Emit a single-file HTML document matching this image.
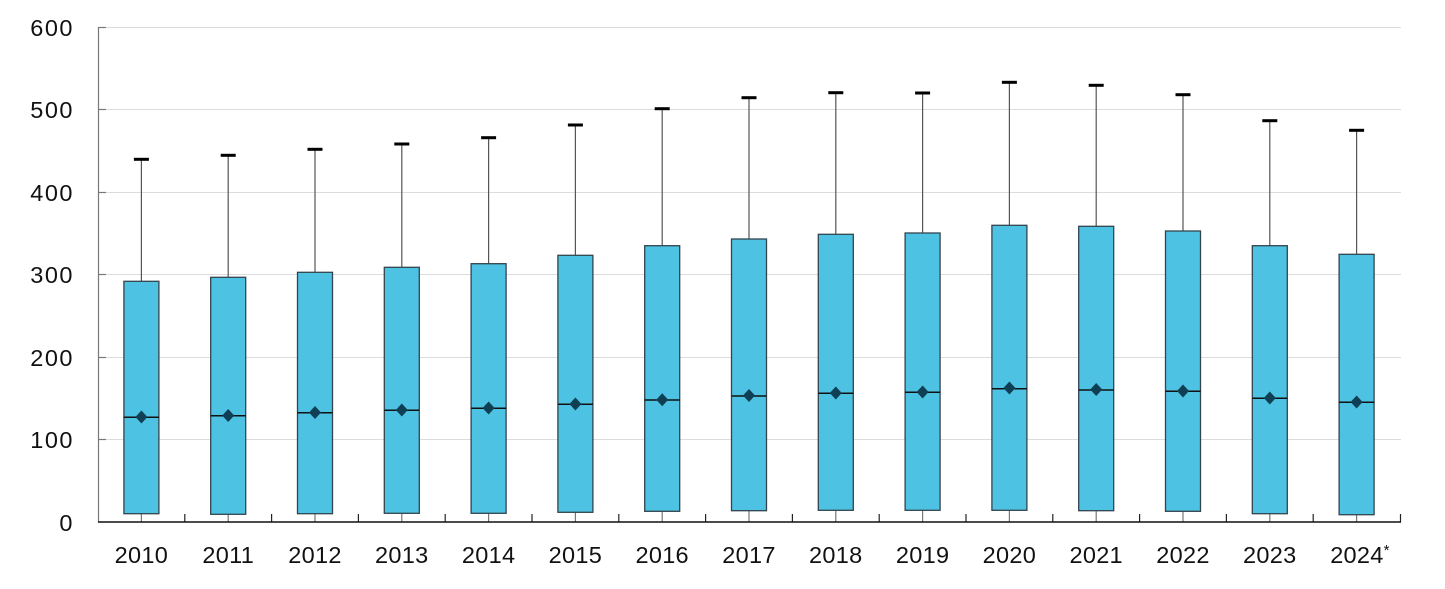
<!DOCTYPE html>
<html>
<head>
<meta charset="utf-8">
<style>
  html,body{margin:0;padding:0;background:#fff;}
  svg{display:block;}
  text{font-family:"Liberation Sans",Arial,sans-serif;fill:#111;}
</style>
</head>
<body>
<svg width="1445" height="589" viewBox="0 0 1445 589" xmlns="http://www.w3.org/2000/svg">
  <!-- gridlines -->
  <g stroke="#dcdcdc" stroke-width="1">
    <line x1="98" y1="27.5" x2="1401" y2="27.5"/>
    <line x1="98" y1="109.5" x2="1401" y2="109.5"/>
    <line x1="98" y1="192.5" x2="1401" y2="192.5"/>
    <line x1="98" y1="274.5" x2="1401" y2="274.5"/>
    <line x1="98" y1="357.5" x2="1401" y2="357.5"/>
    <line x1="98" y1="439.5" x2="1401" y2="439.5"/>
  </g>
  <!-- y axis -->
  <line x1="98.5" y1="27" x2="98.5" y2="522" stroke="#777" stroke-width="1.2"/>
  <g stroke="#777" stroke-width="1.2">
    <line x1="98" y1="27.5" x2="106" y2="27.5"/>
    <line x1="98" y1="109.5" x2="106" y2="109.5"/>
    <line x1="98" y1="192.5" x2="106" y2="192.5"/>
    <line x1="98" y1="274.5" x2="106" y2="274.5"/>
    <line x1="98" y1="357.5" x2="106" y2="357.5"/>
    <line x1="98" y1="439.5" x2="106" y2="439.5"/>
  </g>
  <!-- y labels -->
  <g font-size="23.5" text-anchor="end" letter-spacing="1.5">
    <text x="74" y="36">600</text>
    <text x="74" y="118">500</text>
    <text x="74" y="201">400</text>
    <text x="74" y="283">300</text>
    <text x="74" y="366">200</text>
    <text x="74" y="448">100</text>
    <text x="74" y="531">0</text>
  </g>

  <!-- lower whiskers -->
  <g stroke="#777" stroke-width="1.2">
    <line x1="141.4" y1="513.7" x2="141.4" y2="522"/>
    <line x1="228.2" y1="514.3" x2="228.2" y2="522"/>
    <line x1="315.0" y1="513.7" x2="315.0" y2="522"/>
    <line x1="401.8" y1="513.3" x2="401.8" y2="522"/>
    <line x1="488.6" y1="513.3" x2="488.6" y2="522"/>
    <line x1="575.4" y1="512.3" x2="575.4" y2="522"/>
    <line x1="662.2" y1="511.3" x2="662.2" y2="522"/>
    <line x1="749.0" y1="510.7" x2="749.0" y2="522"/>
    <line x1="835.8" y1="510.3" x2="835.8" y2="522"/>
    <line x1="922.6" y1="510.3" x2="922.6" y2="522"/>
    <line x1="1009.4" y1="510.3" x2="1009.4" y2="522"/>
    <line x1="1096.2" y1="510.7" x2="1096.2" y2="522"/>
    <line x1="1183.0" y1="511.3" x2="1183.0" y2="522"/>
    <line x1="1269.8" y1="513.7" x2="1269.8" y2="522"/>
    <line x1="1356.6" y1="514.7" x2="1356.6" y2="522"/>
  </g>

  <!-- boundary ticks -->
  <g stroke="#222" stroke-width="1.2">
    <line x1="184.8" y1="514" x2="184.8" y2="522"/>
    <line x1="271.6" y1="514" x2="271.6" y2="522"/>
    <line x1="358.4" y1="514" x2="358.4" y2="522"/>
    <line x1="445.2" y1="514" x2="445.2" y2="522"/>
    <line x1="532.0" y1="514" x2="532.0" y2="522"/>
    <line x1="618.8" y1="514" x2="618.8" y2="522"/>
    <line x1="705.6" y1="514" x2="705.6" y2="522"/>
    <line x1="792.4" y1="514" x2="792.4" y2="522"/>
    <line x1="879.2" y1="514" x2="879.2" y2="522"/>
    <line x1="966.0" y1="514" x2="966.0" y2="522"/>
    <line x1="1052.8" y1="514" x2="1052.8" y2="522"/>
    <line x1="1139.6" y1="514" x2="1139.6" y2="522"/>
    <line x1="1226.4" y1="514" x2="1226.4" y2="522"/>
    <line x1="1313.2" y1="514" x2="1313.2" y2="522"/>
    <line x1="1400.5" y1="514" x2="1400.5" y2="522"/>
  </g>
  <!-- x axis -->
  <line x1="98" y1="522" x2="1401" y2="522" stroke="#111" stroke-width="1.6"/>

  <!-- upper whiskers -->
  <g stroke="#555" stroke-width="1.2">
    <line x1="141.4" y1="159.3" x2="141.4" y2="281.3"/>
    <line x1="228.2" y1="155.3" x2="228.2" y2="277.3"/>
    <line x1="315.0" y1="149.3" x2="315.0" y2="272.3"/>
    <line x1="401.8" y1="144" x2="401.8" y2="267.3"/>
    <line x1="488.6" y1="137.7" x2="488.6" y2="263.7"/>
    <line x1="575.4" y1="125" x2="575.4" y2="255.3"/>
    <line x1="662.2" y1="108.7" x2="662.2" y2="245.7"/>
    <line x1="749.0" y1="97.7" x2="749.0" y2="239"/>
    <line x1="835.8" y1="92.7" x2="835.8" y2="234.3"/>
    <line x1="922.6" y1="93" x2="922.6" y2="233"/>
    <line x1="1009.4" y1="82.3" x2="1009.4" y2="225.3"/>
    <line x1="1096.2" y1="85.3" x2="1096.2" y2="226.3"/>
    <line x1="1183.0" y1="94.7" x2="1183.0" y2="231"/>
    <line x1="1269.8" y1="120.7" x2="1269.8" y2="245.7"/>
    <line x1="1356.6" y1="130.3" x2="1356.6" y2="254.3"/>
  </g>
  <!-- caps -->
  <g fill="#000">
    <rect x="133.9" y="157.8" width="15" height="3"/>
    <rect x="220.7" y="153.8" width="15" height="3"/>
    <rect x="307.5" y="147.8" width="15" height="3"/>
    <rect x="394.3" y="142.5" width="15" height="3"/>
    <rect x="481.1" y="136.2" width="15" height="3"/>
    <rect x="567.9" y="123.5" width="15" height="3"/>
    <rect x="654.7" y="107.2" width="15" height="3"/>
    <rect x="741.5" y="96.2" width="15" height="3"/>
    <rect x="828.3" y="91.2" width="15" height="3"/>
    <rect x="915.1" y="91.5" width="15" height="3"/>
    <rect x="1001.9" y="80.8" width="15" height="3"/>
    <rect x="1088.7" y="83.8" width="15" height="3"/>
    <rect x="1175.5" y="93.2" width="15" height="3"/>
    <rect x="1262.3" y="119.2" width="15" height="3"/>
    <rect x="1349.1" y="128.8" width="15" height="3"/>
  </g>
  <!-- boxes -->
  <g fill="#4ec2e2" stroke="#33444e" stroke-width="1.3">
    <rect x="123.9" y="281.3" width="35" height="232.4"/>
    <rect x="210.7" y="277.3" width="35" height="237.0"/>
    <rect x="297.5" y="272.3" width="35" height="241.4"/>
    <rect x="384.3" y="267.3" width="35" height="246.0"/>
    <rect x="471.1" y="263.7" width="35" height="249.6"/>
    <rect x="557.9" y="255.3" width="35" height="257.0"/>
    <rect x="644.7" y="245.7" width="35" height="265.6"/>
    <rect x="731.5" y="239" width="35" height="271.7"/>
    <rect x="818.3" y="234.3" width="35" height="276.0"/>
    <rect x="905.1" y="233" width="35" height="277.3"/>
    <rect x="991.9" y="225.3" width="35" height="285.0"/>
    <rect x="1078.7" y="226.3" width="35" height="284.4"/>
    <rect x="1165.5" y="231" width="35" height="280.3"/>
    <rect x="1252.3" y="245.7" width="35" height="268.0"/>
    <rect x="1339.1" y="254.3" width="35" height="260.4"/>
  </g>
  <!-- medians -->
  <g stroke="#111" stroke-width="1.5">
    <line x1="123.9" y1="417.3" x2="158.9" y2="417.3"/>
    <line x1="210.7" y1="415.7" x2="245.7" y2="415.7"/>
    <line x1="297.5" y1="412.7" x2="332.5" y2="412.7"/>
    <line x1="384.3" y1="410.3" x2="419.3" y2="410.3"/>
    <line x1="471.1" y1="408.3" x2="506.1" y2="408.3"/>
    <line x1="557.9" y1="404.3" x2="592.9" y2="404.3"/>
    <line x1="644.7" y1="400" x2="679.7" y2="400"/>
    <line x1="731.5" y1="396" x2="766.5" y2="396"/>
    <line x1="818.3" y1="393.3" x2="853.3" y2="393.3"/>
    <line x1="905.1" y1="392.3" x2="940.1" y2="392.3"/>
    <line x1="991.9" y1="388.7" x2="1026.9" y2="388.7"/>
    <line x1="1078.7" y1="390" x2="1113.7" y2="390"/>
    <line x1="1165.5" y1="391.3" x2="1200.5" y2="391.3"/>
    <line x1="1252.3" y1="398.3" x2="1287.3" y2="398.3"/>
    <line x1="1339.1" y1="402.3" x2="1374.1" y2="402.3"/>
  </g>
  <!-- mean diamonds -->
  <g fill="#0e3f55">
    <path d="M141.4 410.5 L147.4 417 L141.4 423.5 L135.4 417 Z"/>
    <path d="M228.2 409 L234.2 415.5 L228.2 422 L222.2 415.5 Z"/>
    <path d="M315.0 406 L321 412.5 L315.0 419 L309 412.5 Z"/>
    <path d="M401.8 403.5 L407.8 410 L401.8 416.5 L395.8 410 Z"/>
    <path d="M488.6 401.5 L494.6 408 L488.6 414.5 L482.6 408 Z"/>
    <path d="M575.4 397.5 L581.4 404 L575.4 410.5 L569.4 404 Z"/>
    <path d="M662.2 393.2 L668.2 399.7 L662.2 406.2 L656.2 399.7 Z"/>
    <path d="M749.0 389 L755 395.5 L749.0 402 L743 395.5 Z"/>
    <path d="M835.8 386.5 L841.8 393 L835.8 399.5 L829.8 393 Z"/>
    <path d="M922.6 385.5 L928.6 392 L922.6 398.5 L916.6 392 Z"/>
    <path d="M1009.4 381.5 L1015.4 388 L1009.4 394.5 L1003.4 388 Z"/>
    <path d="M1096.2 383 L1102.2 389.5 L1096.2 396 L1090.2 389.5 Z"/>
    <path d="M1183.0 384.5 L1189 391 L1183.0 397.5 L1177 391 Z"/>
    <path d="M1269.8 391.5 L1275.8 398 L1269.8 404.5 L1263.8 398 Z"/>
    <path d="M1356.6 395.5 L1362.6 402 L1356.6 408.5 L1350.6 402 Z"/>
  </g>

  <!-- x labels -->
  <g font-size="23.5" text-anchor="middle" letter-spacing="0.3">
    <text x="141.4" y="563">2010</text>
    <text x="228.2" y="563">2011</text>
    <text x="315.0" y="563">2012</text>
    <text x="401.8" y="563">2013</text>
    <text x="488.6" y="563">2014</text>
    <text x="575.4" y="563">2015</text>
    <text x="662.2" y="563">2016</text>
    <text x="749.0" y="563">2017</text>
    <text x="835.8" y="563">2018</text>
    <text x="922.6" y="563">2019</text>
    <text x="1009.4" y="563">2020</text>
    <text x="1096.2" y="563">2021</text>
    <text x="1183.0" y="563">2022</text>
    <text x="1269.8" y="563">2023</text>
    <text x="1360" y="563">2024<tspan font-size="15" dy="-8">*</tspan></text>
  </g>
</svg>
</body>
</html>
